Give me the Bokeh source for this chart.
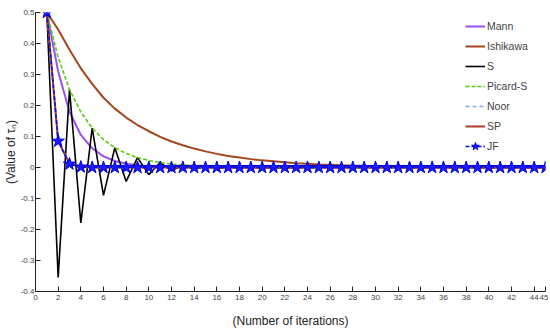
from bokeh.plotting import figure
from bokeh.embed import file_html
from bokeh.resources import INLINE
from bokeh.models import FixedTicker, CustomJSTickFormatter

iterations = list(range(1, 46))

mann = [0.5, 0.31, 0.18, 0.105, 0.062, 0.036, 0.021, 0.012, 0.007, 0.004,
        0.0024, 0.0014, 0.0008, 0.0005, 0.0003, 0.0002, 0.0001, 0.0001, 0.0, 0.0,
        0.0, 0.0, 0.0, 0.0, 0.0, 0.0, 0.0, 0.0, 0.0, 0.0,
        0.0, 0.0, 0.0, 0.0, 0.0, 0.0, 0.0, 0.0, 0.0, 0.0,
        0.0, 0.0, 0.0, 0.0, 0.0]
ishikawa = [0.5, 0.445, 0.38, 0.32, 0.27, 0.225, 0.19, 0.161, 0.137, 0.117,
            0.099, 0.084, 0.072, 0.061, 0.052, 0.044, 0.037, 0.032, 0.027, 0.023,
            0.02, 0.017, 0.014, 0.012, 0.01, 0.0087, 0.0074, 0.0063, 0.0053, 0.0045,
            0.0038, 0.0033, 0.0028, 0.0024, 0.002, 0.0017, 0.0015, 0.0012, 0.001, 0.0009,
            0.0008, 0.0007, 0.0006, 0.0005, 0.0004]
s_iter = [0.5, -0.355, 0.252, -0.179, 0.127, -0.09, 0.064, -0.045, 0.032, -0.023,
          0.016, -0.011, 0.008, -0.006, 0.004, -0.003, 0.002, -0.0014, 0.001, -0.0007,
          0.0005, -0.0004, 0.0003, -0.0002, 0.0001, 0.0, 0.0, 0.0, 0.0, 0.0,
          0.0, 0.0, 0.0, 0.0, 0.0, 0.0, 0.0, 0.0, 0.0, 0.0,
          0.0, 0.0, 0.0, 0.0, 0.0]
picard_s = [0.5, 0.355, 0.252, 0.179, 0.127, 0.09, 0.064, 0.045, 0.032, 0.023,
            0.016, 0.011, 0.008, 0.006, 0.004, 0.003, 0.002, 0.0014, 0.001, 0.0007,
            0.0005, 0.0004, 0.0003, 0.0002, 0.0001, 0.0, 0.0, 0.0, 0.0, 0.0,
            0.0, 0.0, 0.0, 0.0, 0.0, 0.0, 0.0, 0.0, 0.0, 0.0,
            0.0, 0.0, 0.0, 0.0, 0.0]
noor = [0.5, 0.087, 0.013, 0.002, 0.0003, 0.0, 0.0, 0.0, 0.0, 0.0,
        0.0, 0.0, 0.0, 0.0, 0.0, 0.0, 0.0, 0.0, 0.0, 0.0,
        0.0, 0.0, 0.0, 0.0, 0.0, 0.0, 0.0, 0.0, 0.0, 0.0,
        0.0, 0.0, 0.0, 0.0, 0.0, 0.0, 0.0, 0.0, 0.0, 0.0,
        0.0, 0.0, 0.0, 0.0, 0.0]
sp = [0.5, 0.086, 0.012, 0.0018, 0.0002, 0.0, 0.0, 0.0, 0.0, 0.0,
      0.0, 0.0, 0.0, 0.0, 0.0, 0.0, 0.0, 0.0, 0.0, 0.0,
      0.0, 0.0, 0.0, 0.0, 0.0, 0.0, 0.0, 0.0, 0.0, 0.0,
      0.0, 0.0, 0.0, 0.0, 0.0, 0.0, 0.0, 0.0, 0.0, 0.0,
      0.0, 0.0, 0.0, 0.0, 0.0]
jf = [0.5, 0.085, 0.011, 0.0015, 0.0002, 0.0, 0.0, 0.0, 0.0, 0.0,
      0.0, 0.0, 0.0, 0.0, 0.0, 0.0, 0.0, 0.0, 0.0, 0.0,
      0.0, 0.0, 0.0, 0.0, 0.0, 0.0, 0.0, 0.0, 0.0, 0.0,
      0.0, 0.0, 0.0, 0.0, 0.0, 0.0, 0.0, 0.0, 0.0, 0.0,
      0.0, 0.0, 0.0, 0.0, 0.0]

x_ticks = [0, 2, 4, 6, 8, 10, 12, 14, 16, 18, 20, 22, 24, 26, 28, 30, 32, 34, 36, 38, 40, 42, 44, 45]
y_ticks = [-0.4, -0.3, -0.2, -0.1, 0, 0.1, 0.2, 0.3, 0.4, 0.5]

FONT = "Liberation Sans"

p = figure(width=548, height=330, x_range=(0, 45), y_range=(-0.4, 0.5),
           output_backend="svg", toolbar_location=None,
           min_border_left=10, min_border_right=3, min_border_top=12, min_border_bottom=10)
p.outline_line_color = None
p.xgrid.visible = False
p.ygrid.visible = False

p.line(iterations, mann, color="#9b4ff0", line_width=2, legend_label="Mann")
p.line(iterations, ishikawa, color="#a4451c", line_width=2, legend_label="Ishikawa")
p.line(iterations, s_iter, color="black", line_width=1.6, legend_label="S")
p.line(iterations, picard_s, color="#55cc11", line_width=1.6, line_dash="4 2", legend_label="Picard-S")
p.line(iterations, noor, color="#80a8ff", line_width=1.6, line_dash="4 3", legend_label="Noor")
p.line(iterations, sp, color="#b03a26", line_width=2, legend_label="SP")
p.line(iterations, jf, color="#1010e0", line_width=1.6, line_dash="4 2", legend_label="JF")
p.scatter(iterations, jf, marker="star", size=13, fill_color="#1a1aff", line_color="#0000dd", legend_label="JF")

for ax in (p.xaxis[0], p.yaxis[0]):
    ax.major_tick_in = 5
    ax.major_tick_out = 0
    ax.minor_tick_line_color = None
    ax.axis_line_color = "#222222"
    ax.major_tick_line_color = "#222222"
    ax.major_label_text_font = FONT
    ax.major_label_text_font_size = "8px"
    ax.major_label_text_color = "#444444"
    ax.major_label_standoff = 3
    ax.axis_label_text_font_style = "normal"
    ax.axis_label_text_color = "#222222"

p.xaxis.ticker = FixedTicker(ticks=x_ticks)
p.yaxis.ticker = FixedTicker(ticks=y_ticks)
p.yaxis.formatter = CustomJSTickFormatter(code="return String(Math.round(tick*10)/10);")

p.xaxis.axis_label = "(Number of iterations)"
p.xaxis.axis_label_text_font = FONT
p.xaxis.axis_label_text_font_size = "12px"
p.xaxis.axis_label_standoff = 11
p.yaxis.axis_label = "(Value of \u03c4\u2099)"
p.yaxis.axis_label_text_font = FONT
p.yaxis.axis_label_text_font_size = "12px"
p.yaxis.axis_label_standoff = 0
p.yaxis.major_label_standoff = 1

lg = p.legend[0]
lg.border_line_color = None
lg.background_fill_alpha = 0
lg.label_text_font = FONT
lg.label_text_font_size = "10.5px"
lg.glyph_width = 20
lg.glyph_height = 20
lg.label_height = 20
lg.spacing = 0
lg.padding = 0
lg.margin = 0
lg.label_standoff = 2
lg.location = (430, 135)

open("out.html", "w").write(file_html(p, INLINE))
